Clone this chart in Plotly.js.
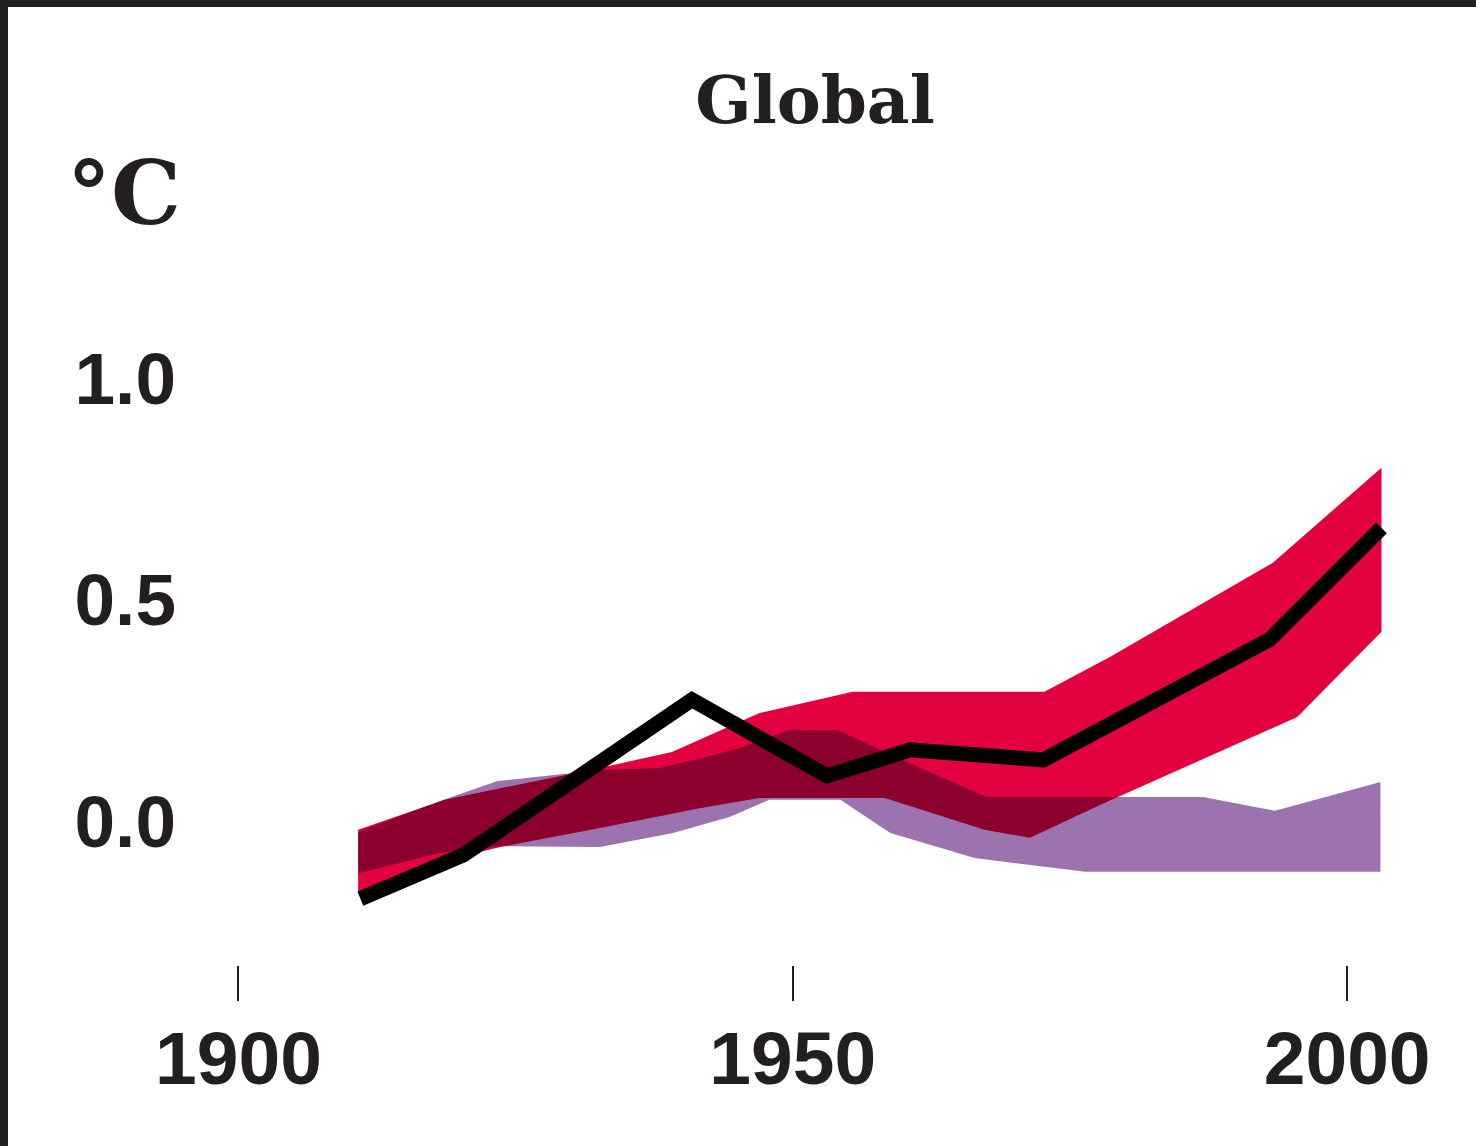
<!DOCTYPE html>
<html>
<head>
<meta charset="utf-8">
<script src="https://cdn.plot.ly/plotly-3.0.1.min.js"></script>
<style>
  html, body { margin: 0; padding: 0; background: #ffffff; }
  #wrap { position: relative; width: 1476px; height: 1146px; overflow: hidden; }
  #chart { position: absolute; left: 0; top: 0; width: 1476px; height: 1146px; }
  .edge { position: absolute; background: #222222; }
</style>
</head>
<body>
<div id="wrap">
  <div id="chart"></div>
  <div class="edge" style="left:0;top:0;width:1476px;height:7px;"></div>
  <div class="edge" style="left:0;top:0;width:8px;height:1146px;"></div>
</div>
<script>
// Observed decadal global temperature anomaly (black line)
const obsYears = [1911.0, 1920.3, 1940.9, 1953.1, 1960.6, 1972.6, 1993.0, 2003.1];
const obsTemp  = [-0.176, -0.077, 0.274, 0.102, 0.161, 0.138, 0.410, 0.663];

// Models using natural + anthropogenic forcings (red band)
const allTopYears = [1910.8, 1918.6, 1932.6, 1939.1, 1947.0, 1955.4, 1972.7, 1978.6, 1993.3, 2003.1];
const allTopTemp  = [-0.020, 0.048, 0.120, 0.156, 0.244, 0.292, 0.292, 0.371, 0.584, 0.799];
const allBotYears = [1910.8, 1920.3, 1923.6, 1932.6, 1941.6, 1947.0, 1958.3, 1967.3, 1971.4, 1977.7, 1995.5, 2003.1];
const allBotTemp  = [-0.163, -0.079, -0.059, -0.016, 0.029, 0.052, 0.052, -0.020, -0.038, 0.036, 0.235, 0.428];

// Models using only natural forcings (purple band)
const natTopYears = [1910.8, 1918.2, 1923.3, 1932.6, 1938.0, 1942.3, 1945.2, 1949.8, 1954.0, 1958.3, 1963.3, 1967.5, 1987.0, 1993.5, 2003.0];
const natTopTemp  = [-0.025, 0.045, 0.090, 0.115, 0.120, 0.145, 0.165, 0.206, 0.206, 0.156, 0.100, 0.054, 0.054, 0.023, 0.088];
const natBotYears = [1910.8, 1918.2, 1923.6, 1932.6, 1939.2, 1944.3, 1947.9, 1954.3, 1958.8, 1966.4, 1976.4, 2003.0];
const natBotTemp  = [-0.118, -0.072, -0.057, -0.059, -0.027, 0.009, 0.048, 0.048, -0.027, -0.084, -0.115, -0.115];

const xTickVals = [1900, 1950, 2000];
const xTickText = ['1900', '1950', '2000'];
const yTickVals = [0, 0.5, 1.0];
const yTickText = ['0.0', '0.5', '1.0'];

const titleText = 'Global';
const unitText = '°C';

function band(topX, topY, botX, botY) {
  return {
    x: topX.concat(botX.slice().reverse()),
    y: topY.concat(botY.slice().reverse())
  };
}

const nat = band(natTopYears, natTopTemp, natBotYears, natBotTemp);
const all = band(allTopYears, allTopTemp, allBotYears, allBotTemp);

const traces = [
  { x: nat.x, y: nat.y, type: 'scatter', mode: 'lines', fill: 'toself',
    fillcolor: '#9C72AF', line: { width: 0, color: 'rgba(0,0,0,0)' }, hoverinfo: 'skip' },
  { x: all.x, y: all.y, type: 'scatter', mode: 'lines', fill: 'toself',
    fillcolor: '#E3003F', line: { width: 0, color: 'rgba(0,0,0,0)' }, hoverinfo: 'skip' },
  { x: obsYears, y: obsTemp, type: 'scatter', mode: 'lines',
    line: { width: 15, color: '#000000' }, hoverinfo: 'skip' }
];

const L = 183, R = 18, T = 202, B = 181;
const W = 1476, H = 1146;
const pw = W - L - R, ph = H - T - B;

const layout = {
  width: W, height: H,
  margin: { l: L, r: R, t: T, b: B, pad: 0 },
  paper_bgcolor: '#ffffff', plot_bgcolor: '#ffffff',
  showlegend: false,
  title: {
    text: titleText,
    font: { family: 'DejaVu Serif', size: 66, weight: 'bold', color: '#231F20' },
    xref: 'container', x: 815 / W, xanchor: 'center',
    yref: 'container', y: 1 - 100 / H, yanchor: 'middle'
  },
  xaxis: {
    range: [1895, 2010],
    tickvals: xTickVals, ticktext: xTickText,
    ticks: 'outside', ticklen: 35, tickwidth: 2, tickcolor: '#231F20',
    showline: false, showgrid: false, zeroline: false,
    tickfont: { family: 'Liberation Sans, Arial, sans-serif', size: 75, weight: 'bold', color: '#231F20' },
    ticklabelstandoff: -7,
    fixedrange: true
  },
  yaxis: {
    range: [-0.3258, 1.4],
    tickvals: yTickVals, ticktext: yTickText,
    ticks: '', showline: false, showgrid: false, zeroline: false,
    tickfont: { family: 'Liberation Sans, Arial, sans-serif', size: 73, weight: 'bold', color: '#231F20' },
    ticklabelstandoff: 6,
    fixedrange: true
  },
  annotations: [{
    text: unitText, showarrow: false,
    xref: 'paper', yref: 'paper',
    x: (65 - L) / pw, xanchor: 'left',
    y: (H - B - 193) / ph, yanchor: 'middle',
    font: { family: 'DejaVu Serif', size: 88, weight: 'bold', color: '#231F20' }
  }]
};

Plotly.newPlot('chart', traces, layout, { displayModeBar: false, staticPlot: true }).then(function (gd) {
  const groups = gd.querySelectorAll('.scatterlayer .trace');
  if (groups.length > 1) {
    groups[1].style.mixBlendMode = 'multiply';
    groups[1].querySelectorAll('path').forEach(function (p) { p.style.mixBlendMode = 'multiply'; });
  }
  if (groups.length > 2) {
    groups[2].querySelectorAll('path.js-line').forEach(function (p) {
      p.style.strokeLinejoin = 'miter';
      p.style.strokeLinecap = 'butt';
    });
  }
});
</script>
</body>
</html>
